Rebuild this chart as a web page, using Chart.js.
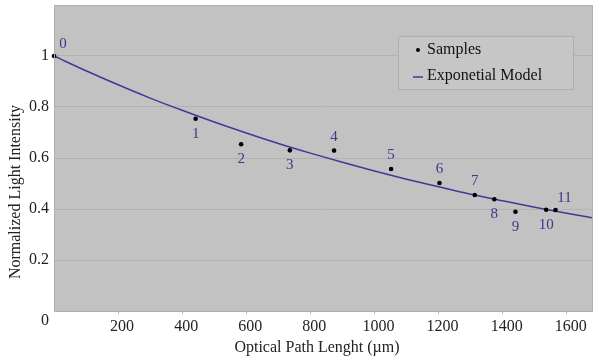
<!DOCTYPE html>
<html>
<head>
<meta charset="utf-8">
<script src="https://cdn.jsdelivr.net/npm/chart.js@4.4.1/dist/chart.umd.min.js"></script>
<style>
html,body{margin:0;padding:0;background:#fff;}
#wrap{width:593px;height:362px;position:relative;}
</style>
</head>
<body>
<div id="wrap"><canvas id="c" width="593" height="362"></canvas></div>
<script>
// ---- data ----
const sampleIds = ['0','1','2','3','4','5','6','7','8','9','10','11'];
const sampleX = [0, 442, 584, 736, 874, 1052, 1203, 1313, 1374, 1440, 1536, 1565];
const sampleY = [1.0, 0.754, 0.654, 0.630, 0.629, 0.557, 0.502, 0.455, 0.438, 0.389, 0.397, 0.396];
const labelSide = ['ar','b','b','b','a','a','a','a','b','b','b','ar'];
const modelX = [0,100,200,300,400,500,600,700,800,900,1000,1100,1200,1300,1400,1500,1600,1700];
const modelY = [1.000,0.942,0.887,0.835,0.787,0.741,0.698,0.657,0.619,0.583,0.549,0.517,0.487,0.458,0.432,0.407,0.383,0.361];
const xTickValues = [200,400,600,800,1000,1200,1400,1600];
const yTickLabels = ['0.2','0.4','0.6','0.8','1'];
const seriesNames = ['Samples','Exponetial Model'];
const xTitle = 'Optical Path Lenght (\u00b5m)';
const yTitle = 'Normalized Light Intensity';

const SERIF = "'Liberation Serif','Times New Roman',serif";
const LINE_COLOR = '#3c3c98';
const LABEL_COLOR = '#3a3a88';

const bgPlugin = {
  id: 'bg',
  beforeDraw(chart) {
    const {ctx, chartArea: a} = chart;
    ctx.save();
    ctx.fillStyle = '#c2c2c2';
    ctx.fillRect(a.left, a.top, a.right - a.left, a.bottom - a.top);
    ctx.restore();
  },
  afterDraw(chart) {
    const {ctx, chartArea: a, scales} = chart;
    ctx.save();
    ctx.strokeStyle = '#b0b0b0';
    ctx.lineWidth = 1;
    ctx.strokeRect(a.left + 0.5, a.top + 0.5, a.right - a.left - 1, a.bottom - a.top);
    const meta = chart.getDatasetMeta(0);
    ctx.font = '15px ' + SERIF;
    ctx.fillStyle = LABEL_COLOR;
    ctx.textAlign = 'center';
    ctx.textBaseline = 'middle';
    meta.data.forEach((pt, i) => {
      let dx = 0, dy = 0;
      const s = labelSide[i];
      if (s === 'a') dy = -14;
      else if (s === 'b') dy = 15;
      else if (s === 'ar') { dx = 9; dy = -12; }
      ctx.fillText(sampleIds[i], pt.x + dx, pt.y + dy);
    });
    ctx.fillStyle = '#222';
    ctx.font = '16px ' + SERIF;
    ctx.fillText('0', 45, scales.y.getPixelForValue(0) + 10);
    ctx.fillText(xTitle, 317, 348);
    ctx.save();
    ctx.translate(16, 192);
    ctx.rotate(-Math.PI / 2);
    ctx.fillText(yTitle, 0, 0);
    ctx.restore();
    const lx = 398, ly = 36, lw = 175, lh = 53;
    ctx.fillStyle = '#c6c6c6';
    ctx.fillRect(lx, ly, lw, lh);
    ctx.strokeStyle = '#aeaeae';
    ctx.strokeRect(lx + 0.5, ly + 0.5, lw, lh);
    ctx.fillStyle = '#000';
    ctx.beginPath();
    ctx.arc(418, 50, 2, 0, Math.PI * 2);
    ctx.fill();
    ctx.strokeStyle = LINE_COLOR;
    ctx.lineWidth = 1.5;
    ctx.beginPath();
    ctx.moveTo(413, 77);
    ctx.lineTo(423, 77);
    ctx.stroke();
    ctx.fillStyle = '#111';
    ctx.textAlign = 'left';
    ctx.fillText(seriesNames[0], 427, 50);
    ctx.fillText(seriesNames[1], 427, 76);
    ctx.restore();
  }
};

new Chart(document.getElementById('c'), {
  type: 'scatter',
  data: {
    datasets: [
      {
        label: seriesNames[0],
        data: sampleX.map((x, i) => ({x, y: sampleY[i]})),
        backgroundColor: '#000',
        borderColor: '#000',
        pointRadius: 2.3,
        pointBorderWidth: 0,
        pointHoverRadius: 0,
        showLine: false,
        clip: false,
        order: 0
      },
      {
        label: seriesNames[1],
        data: modelX.map((x, i) => ({x, y: modelY[i]})),
        showLine: true,
        borderColor: LINE_COLOR,
        borderWidth: 1.5,
        pointRadius: 0,
        pointHoverRadius: 0,
        cubicInterpolationMode: 'monotone',
        order: 1
      }
    ]
  },
  options: {
    responsive: false,
    animation: false,
    layout: {autoPadding: false, padding: {top: 5, right: 0, left: 0, bottom: 0}},
    plugins: {legend: {display: false}, tooltip: {enabled: false}},
    scales: {
      x: {
        type: 'linear',
        min: 0,
        max: 1682,
        afterBuildTicks(scale) {
          scale.ticks = xTickValues.map(v => ({value: v}));
        },
        afterFit(scale) {
          scale.height = 51;
          scale.paddingLeft = 0; scale.paddingRight = 0;
        },
        grid: {display: true, drawOnChartArea: false, drawTicks: true, tickLength: 3, color: '#b8b8b8'},
        border: {display: false},
        ticks: {
          font: {family: SERIF, size: 16},
          color: '#222',
          padding: 3,
          labelOffset: 4,
          maxRotation: 0,
          autoSkip: false,
          callback: (v) => String(v)
        }
      },
      y: {
        min: 0,
        max: 1.2,
        afterBuildTicks(scale) {
          scale.ticks = yTickLabels.map(v => ({value: parseFloat(v)}));
        },
        afterFit(scale) {
          scale.width = 54;
          scale.paddingTop = 0; scale.paddingBottom = 0;
        },
        grid: {color: '#b2b2b2', drawTicks: false, lineWidth: 1},
        border: {display: false},
        ticks: {
          font: {family: SERIF, size: 16},
          color: '#222',
          padding: 5,
          callback: (v) => yTickLabels.find(t => parseFloat(t) === v) || ''
        }
      }
    }
  },
  plugins: [bgPlugin]
});
</script>
</body>
</html>
